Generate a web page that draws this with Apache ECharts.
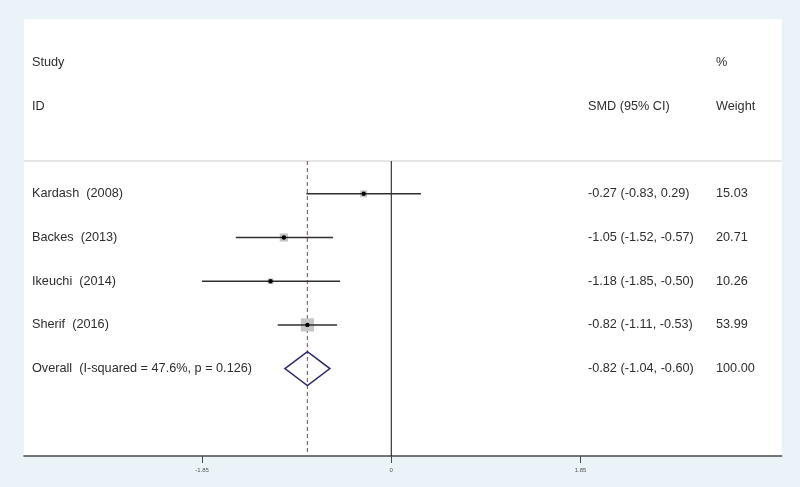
<!DOCTYPE html>
<html>
<head>
<meta charset="utf-8">
<script src="https://cdn.jsdelivr.net/npm/echarts@6/dist/echarts.min.js"></script>
<style>html,body{margin:0;padding:0;background:#eaf3f7;}#c{width:800px;height:487px;}</style>
</head>
<body>
<div id="c"></div>
<script>
// ---- data ----
const studies = ['Kardash  (2008)', 'Backes  (2013)', 'Ikeuchi  (2014)', 'Sherif  (2016)'];
const smd = [-0.27, -1.05, -1.18, -0.82];
const lower = [-0.83, -1.52, -1.85, -1.11];
const upper = [0.29, -0.57, -0.50, -0.53];
const weights = [15.03, 20.71, 10.26, 53.99];
const overallLabel = 'Overall  (I-squared = 47.6%, p = 0.126)';
const overallSmd = -0.82;
const overallLower = -1.04;
const overallUpper = -0.60;
const overallWeight = 100.00;
const headerRow1 = ['Study', '', '%'];
const headerRow2 = ['ID', 'SMD (95% CI)', 'Weight'];
const tickValues = [-1.85, 0, 1.85];
const tickLabels = ['-1.85', '0', '1.85'];

// ---- layout helpers ----
const FONT = "'Liberation Sans', Arial, Helvetica, sans-serif";
const TXT = '#2e2e2e';
const colX = [32, 588, 716];
const X_MIN = -3.590, X_MAX = 3.816;
const Y_MIN = -4, Y_MAX = 6;
const SEP_ROW = -0.75;

const fmt = v => v.toFixed(2);
const ciText = (e, l, u) => fmt(e) + ' (' + fmt(l) + ', ' + fmt(u) + ')';

// text items: [column, row, text]
const textItems = [];
headerRow1.forEach((t, c) => { if (t) textItems.push([c, -3, t]); });
headerRow2.forEach((t, c) => { if (t) textItems.push([c, -2, t]); });
studies.forEach((s, i) => {
  textItems.push([0, i, s]);
  textItems.push([1, i, ciText(smd[i], lower[i], upper[i])]);
  textItems.push([2, i, fmt(weights[i])]);
});
const ovRow = studies.length;
textItems.push([0, ovRow, overallLabel]);
textItems.push([1, ovRow, ciText(overallSmd, overallLower, overallUpper)]);
textItems.push([2, ovRow, fmt(overallWeight)]);

const studyData = studies.map((s, i) => [smd[i], i, lower[i], upper[i], weights[i]]);

const chart = echarts.init(document.getElementById('c'), null, {renderer: 'canvas'});
chart.setOption({
  backgroundColor: '#eaf3f7',
  animation: false,
  grid: {left: 24, right: 18.3, top: 19, bottom: 31, show: true, backgroundColor: '#ffffff', borderWidth: 0},
  xAxis: {
    type: 'value', min: X_MIN, max: X_MAX,
    splitLine: {show: false},
    axisLine: {show: true, onZero: false, lineStyle: {color: '#4a4a4a', width: 1.5}},
    axisTick: {show: true, customValues: tickValues, length: 7, lineStyle: {color: '#4a4a4a', width: 1}},
    axisLabel: {show: true, customValues: tickValues, fontSize: 6, color: '#555', fontFamily: FONT, margin: 11,
      formatter: v => { const k = tickValues.findIndex(t => Math.abs(t - v) < 1e-9); return k >= 0 ? tickLabels[k] : ''; }}
  },
  yAxis: {type: 'value', min: Y_MIN, max: Y_MAX, inverse: true, show: false, splitLine: {show: false}},
  series: [
    { // separator + reference lines
      type: 'custom', silent: true, z: 1,
      data: [[0]],
      renderItem: (params, api) => {
        const cs = params.coordSys;
        const ySep = api.coord([0, SEP_ROW])[1];
        const yBot = cs.y + cs.height;
        const x0 = api.coord([0, 0])[0];
        const xo = api.coord([overallSmd, 0])[0];
        return {type: 'group', children: [
          {type: 'line', shape: {x1: cs.x, y1: ySep, x2: cs.x + cs.width, y2: ySep}, style: {stroke: '#dcdcdc', lineWidth: 1.5}},
          {type: 'line', shape: {x1: x0, y1: ySep, x2: x0, y2: yBot}, style: {stroke: '#111', lineWidth: 1}},
          {type: 'line', shape: {x1: xo, y1: ySep, x2: xo, y2: yBot}, style: {stroke: '#b0557a', lineWidth: 1.2, lineDash: [4, 3]}}
        ]};
      }
    },
    { // studies
      type: 'custom', silent: true, z: 3,
      data: studyData,
      renderItem: (params, api) => {
        const p = api.coord([api.value(0), api.value(1)]);
        const pl = api.coord([api.value(2), api.value(1)]);
        const pu = api.coord([api.value(3), api.value(1)]);
        const side = 1.8 * Math.sqrt(api.value(4));
        return {type: 'group', children: [
          {type: 'rect', shape: {x: p[0] - side / 2, y: p[1] - side / 2, width: side, height: side}, style: {fill: '#c6c6c6'}},
          {type: 'line', shape: {x1: pl[0], y1: pl[1], x2: pu[0], y2: pu[1]}, style: {stroke: '#2f2f2f', lineWidth: 1.5}},
          {type: 'circle', shape: {cx: p[0], cy: p[1], r: 2.2}, style: {fill: '#000'}}
        ]};
      }
    },
    { // overall diamond
      type: 'custom', silent: true, z: 3,
      data: [[overallSmd, ovRow, overallLower, overallUpper]],
      renderItem: (params, api) => {
        const p = api.coord([api.value(0), api.value(1)]);
        const pl = api.coord([api.value(2), api.value(1)]);
        const pu = api.coord([api.value(3), api.value(1)]);
        const h = 17;
        return {type: 'polygon', shape: {points: [[pl[0], p[1]], [p[0], p[1] - h], [pu[0], p[1]], [p[0], p[1] + h]]},
          style: {fill: 'rgba(0,0,0,0)', stroke: '#2c2868', lineWidth: 1.5}};
      }
    },
    { // texts
      type: 'custom', silent: true, z: 5,
      data: textItems.map(t => [t[0], t[1]]),
      renderItem: (params, api) => {
        const it = textItems[params.dataIndex];
        const y = api.coord([0, it[1]])[1];
        return {type: 'text', style: {x: colX[it[0]], y: y, text: it[2], fill: TXT, font: '12.7px ' + FONT, verticalAlign: 'middle', align: 'left'}};
      }
    }
  ]
});
</script>
</body>
</html>
